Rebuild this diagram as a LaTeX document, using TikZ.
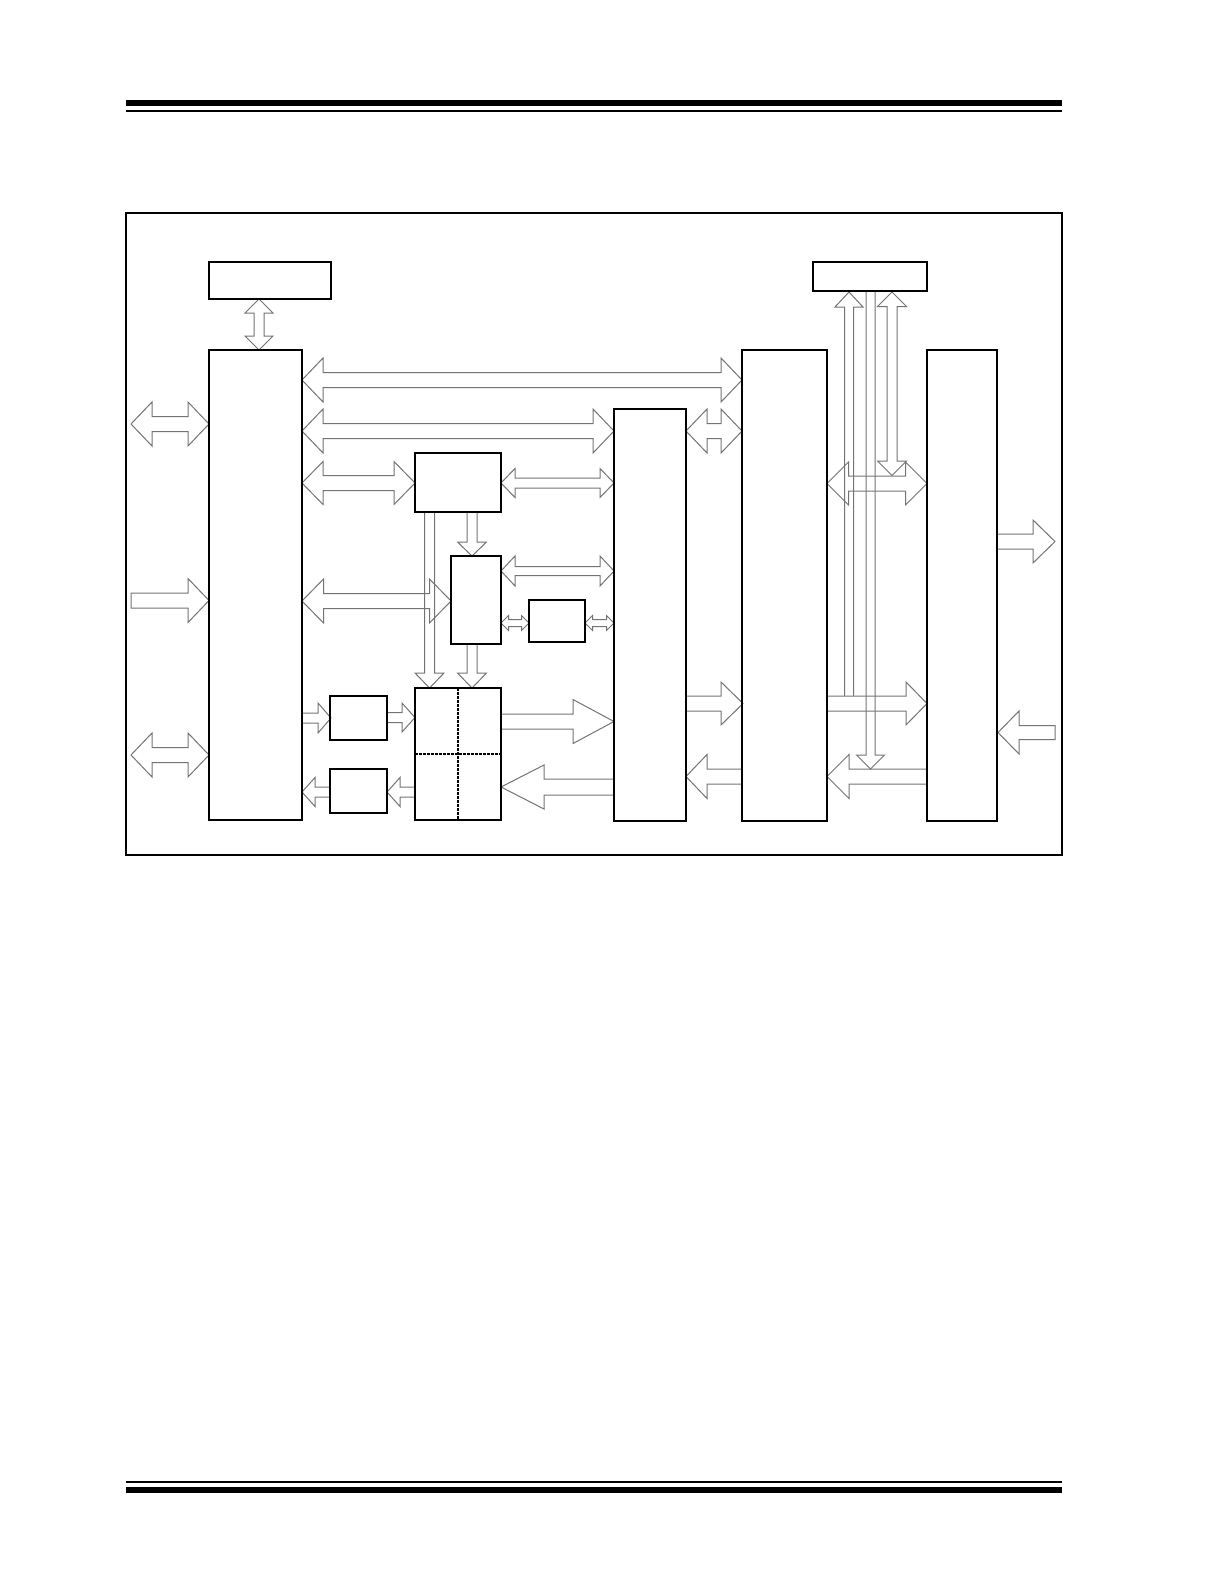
\documentclass[tikz,border=0pt]{standalone}
\usetikzlibrary{positioning}
\newcommand\hdbl[6]{\draw[fat] (#1,#3) -- ({#1+#6},{#3-#5}) -- ({#1+#6},{#3-#4}) -- ({#2-#6},{#3-#4}) -- ({#2-#6},{#3-#5}) -- (#2,#3) -- ({#2-#6},{#3+#5}) -- ({#2-#6},{#3+#4}) -- ({#1+#6},{#3+#4}) -- ({#1+#6},{#3+#5}) -- cycle;}
\newcommand\hright[6]{\draw[fat] (#1,{#3-#4}) -- ({#2-#6},{#3-#4}) -- ({#2-#6},{#3-#5}) -- (#2,#3) -- ({#2-#6},{#3+#5}) -- ({#2-#6},{#3+#4}) -- (#1,{#3+#4}) -- cycle;}
\newcommand\hleft[6]{\draw[fat] (#2,{#3-#4}) -- ({#1+#6},{#3-#4}) -- ({#1+#6},{#3-#5}) -- (#1,#3) -- ({#1+#6},{#3+#5}) -- ({#1+#6},{#3+#4}) -- (#2,{#3+#4}) -- cycle;}
\newcommand\vdbl[6]{\draw[fat] (#1,#2) -- ({#1+#5},{#2+#6}) -- ({#1+#4},{#2+#6}) -- ({#1+#4},{#3-#6}) -- ({#1+#5},{#3-#6}) -- (#1,#3) -- ({#1-#5},{#3-#6}) -- ({#1-#4},{#3-#6}) -- ({#1-#4},{#2+#6}) -- ({#1-#5},{#2+#6}) -- cycle;}
\newcommand\vdown[6]{\draw[fat] ({#1-#4},#2) -- ({#1-#4},{#3-#6}) -- ({#1-#5},{#3-#6}) -- (#1,#3) -- ({#1+#5},{#3-#6}) -- ({#1+#4},{#3-#6}) -- ({#1+#4},#2) -- cycle;}
\newcommand\vup[6]{\draw[fat] ({#1-#4},#3) -- ({#1-#4},{#2+#6}) -- ({#1-#5},{#2+#6}) -- (#1,#2) -- ({#1+#5},{#2+#6}) -- ({#1+#4},{#2+#6}) -- ({#1+#4},#3);}
\newcommand\blk[5]{\node[blockbox, minimum width=#4pt, minimum height=#5pt] (#1) at (#2,#3) {};}
\begin{document}
\begin{tikzpicture}[x=1pt,y=-1pt,
  fat/.style={draw=black!55, line width=1pt, line join=miter},
  blockbox/.style={draw=black, line width=1.3pt, anchor=north west, inner sep=0pt, outer sep=0pt, rectangle},
  basebar/.style={draw=black, line width=2.2pt},
  rule/.style={fill=black},
  quad/.style={draw=black, line width=1.8pt, dash pattern=on 2.5pt off 1.5pt}]
\useasboundingbox (0,0) rectangle (1224,1584);
% header and footer rules
\fill[rule] (126,100) rectangle (1062,106);
\fill[rule] (126,110) rectangle (1062,112);
\fill[rule] (126,1481) rectangle (1062,1483);
\fill[rule] (126,1487) rectangle (1062,1493);
% frame
\node[blockbox, line width=1.2pt, minimum width=936pt, minimum height=642pt] (frame) at (126,213) {};
% ---- block arrows ----
% left side
\hdbl{131}{209}{424}{7.5}{22}{21}
\hright{131}{209}{600.5}{7.5}{22}{21}
\hdbl{131}{209}{755}{7.5}{22}{21}
% top-left box <-> B1
\vdbl{259}{299}{350}{5}{14}{14}
% B1 buses
\hdbl{302}{742}{380}{7.5}{22}{21}
\hdbl{302}{614}{431}{7.5}{22}{21}
\hdbl{302}{415}{483}{7.5}{21.5}{21}
\hdbl{302}{451}{601}{7.5}{22}{21.5}
% A, M connections
\hdbl{501}{614}{483}{5}{14.5}{14}
\hdbl{501}{614}{571}{4.5}{15}{14}
\vdown{472}{512}{556}{5}{14.5}{14}
\vdown{429.5}{512}{688}{5}{14.5}{15}
\vdown{472}{644}{688}{5}{14.5}{15}
\hdbl{501}{529}{623}{3.5}{7.5}{7.5}
\hdbl{585}{614}{623}{3.5}{7.5}{7.5}
% small boxes
\hright{302}{331}{718}{5}{15}{13}
\hright{387}{415}{717.5}{5}{14.5}{13}
\hleft{387}{415}{792}{5}{14.5}{13}
\hleft{302}{330}{792}{5}{14.5}{13}
% Q <-> B2
\hright{501}{614}{721.5}{7.5}{22}{41}
\hleft{501}{614}{787}{8}{22}{43}
% B2 <-> B3
\hdbl{686}{742}{431}{7.5}{22}{21}
\hright{686}{743}{703.5}{7.5}{21.5}{22}
\hleft{686}{742}{776.5}{7.5}{22}{21}
% B3 <-> B4 and top-right box
\hdbl{827}{927}{483.5}{7.5}{21.5}{21.5}
\hright{827}{927}{703.5}{7.5}{21.5}{21}
\hleft{827}{927}{776.5}{7.5}{22}{22}
\vup{849}{292}{696}{4.5}{14}{15}
\vdown{870.5}{291}{769}{4.5}{14}{14}
\vdbl{892}{292}{475.5}{5}{14.5}{14.5}
% B4 outside
\hright{997}{1055}{541.5}{7.5}{21.5}{22}
\hleft{998}{1055}{732.5}{7}{21.5}{21}
% ---- blocks ----
\blk{TL}{209}{262}{122}{37}
\blk{B1}{209}{350}{93}{470}
\blk{A}{415}{453}{86}{59}
\blk{M}{451}{556}{50}{88}
\blk{S}{529}{600}{56}{42}
\blk{Q}{415}{688}{86}{132}
\blk{P1}{330}{696}{57}{44}
\blk{P2}{330}{769}{57}{44}
\blk{B2}{614}{409}{72}{412}
\blk{B3}{742}{350}{85}{471}
\blk{TR}{813}{262}{114}{29}
\blk{B4}{927}{350}{70}{471}
% heavier base lines of the tall blocks
\foreach \b in {B1,Q,B2,B3,B4} \draw[basebar] (\b.south west) -- (\b.south east);
% quadrant dividers
\draw[quad] (Q.north) -- (Q.south);
\draw[quad] (Q.west) -- (Q.east);
\end{tikzpicture}
\end{document}
